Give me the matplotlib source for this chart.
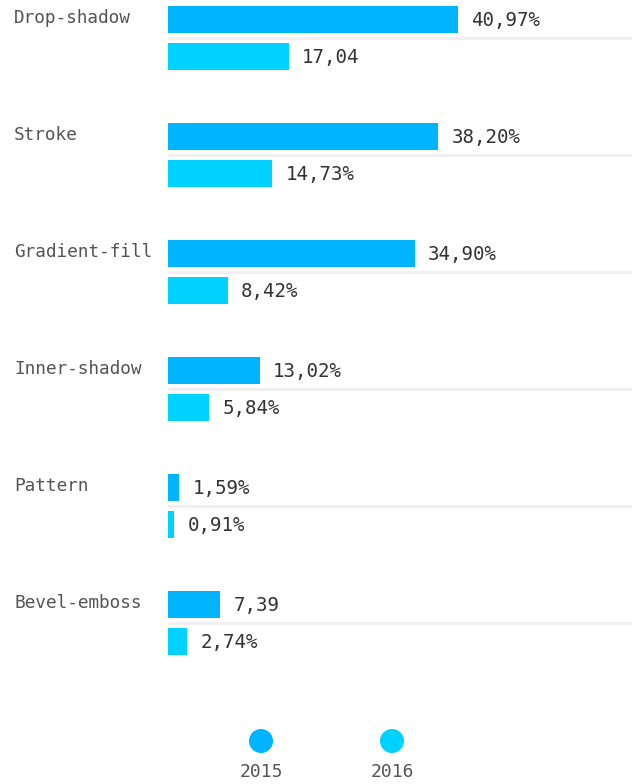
import matplotlib
matplotlib.use("Agg")
import matplotlib.pyplot as plt

categories = ["Drop-shadow", "Stroke", "Gradient-fill", "Inner-shadow", "Pattern", "Bevel-emboss"]
series_names = ["2015", "2016"]
values_2015 = [40.97, 38.20, 34.90, 13.02, 1.59, 7.39]
values_2016 = [17.04, 14.73, 8.42, 5.84, 0.91, 2.74]
labels_2015 = ["40,97%", "38,20%", "34,90%", "13,02%", "1,59%", "7,39"]
labels_2016 = ["17,04", "14,73%", "8,42%", "5,84%", "0,91%", "2,74%"]
colors = ["#00b4ff", "#00d2ff"]

W, H = 632, 784
fig = plt.figure(figsize=(W / 100, H / 100), dpi=100)
mono = "DejaVu Sans Mono"

# bar area: left edge at 168 px, right edge at figure edge; y in pixel rows
left_px = 168
px_per_unit = 7.08
ax = fig.add_axes([left_px / W, 0, 1 - left_px / W, 1])
ax.set_xlim(0, (W - left_px) / px_per_unit)
ax.set_ylim(H, 0)
ax.axis("off")

group_step = 117
bar_h = 27
for i, cat in enumerate(categories):
    y0 = 19.5 + group_step * i
    y1 = 56.5 + group_step * i
    ax.hlines(38 + group_step * i, 0, ax.get_xlim()[1], color="#f0f0f0", lw=2.2, zorder=0)
    ax.barh(y0, values_2015[i], height=bar_h, color=colors[0], zorder=2)
    ax.barh(y1, values_2016[i], height=bar_h, color=colors[1], zorder=2)
    off = 13 / px_per_unit
    ax.text(values_2015[i] + off, y0 + 1, labels_2015[i], va="center", ha="left",
            fontsize=13.8, color="#333333", family=mono)
    ax.text(values_2016[i] + off, y1 + 1, labels_2016[i], va="center", ha="left",
            fontsize=13.8, color="#333333", family=mono)

# category labels and legend in pixel coordinates
ov = fig.add_axes([0, 0, 1, 1], facecolor="none")
ov.set_xlim(0, W)
ov.set_ylim(H, 0)
ov.axis("off")
for i, cat in enumerate(categories):
    ov.text(14, 18 + group_step * i, cat, va="center", ha="left",
            fontsize=12.8, color="#555555", family=mono)

legend_x = [261, 392]
for x, name, c in zip(legend_x, series_names, colors):
    ov.scatter([x], [741], s=300, color=c, edgecolors="none")
    ov.text(x, 772, name, ha="center", va="center", fontsize=13, color="#555555", family=mono)

fig.savefig("out.png", dpi=100)
